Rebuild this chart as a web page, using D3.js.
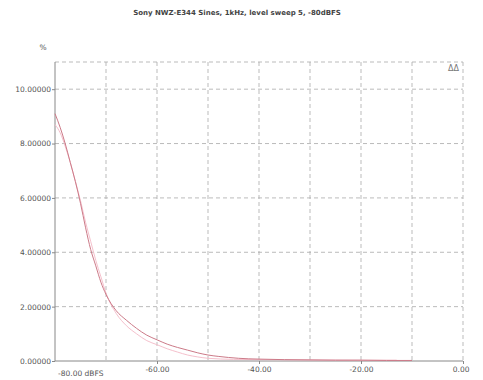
<!DOCTYPE html>
<html>
<head>
<meta charset="utf-8">
<script src="https://cdn.jsdelivr.net/npm/d3@7"></script>
<style>
  body { margin: 0; background: #fff; }
  text { font-family: "DejaVu Sans", sans-serif; }
</style>
</head>
<body>
<div id="chart"></div>
<script>
const title = 'Sony NWZ-E344 Sines, 1kHz, level sweep 5, -80dBFS';

// level in dBFS and THD+N in %
const levels = [-80, -79, -78, -77, -76, -75, -74, -73, -72, -71, -70, -68, -66, -64, -62, -60,
  -58, -56, -54, -52, -50, -48, -46, -44, -42, -40, -35, -30, -25, -20, -15, -10];
const thdMain = [9.1, 8.6, 8.0, 7.3, 6.6, 5.8, 4.9, 4.1, 3.5, 2.9, 2.45, 1.85, 1.5, 1.2, 0.95, 0.78,
  0.62, 0.5, 0.4, 0.3, 0.22, 0.17, 0.13, 0.1, 0.08, 0.07, 0.05, 0.04, 0.03, 0.03, 0.02, 0.02];

const levels2 = [-80, -79, -78, -77, -76, -75, -74, -73, -72, -71, -70, -68, -66, -64, -62, -60,
  -58, -56, -54, -52, -50, -45, -40, -30, -20, -13];
const thdRef = [8.7, 8.4, 7.9, 7.3, 6.6, 5.9, 5.1, 4.4, 3.7, 3.1, 2.5, 1.75, 1.3, 1.0, 0.75, 0.6,
  0.45, 0.33, 0.22, 0.15, 0.1, 0.06, 0.05, 0.04, 0.03, 0.03];

const yTicks = [0, 2, 4, 6, 8, 10];
const xGrid = [-70, -60, -50, -40, -30, -20, -10];
const xLabels = [-60, -40, -20, 0];

const width = 483;
const height = 380;
const margin = { top: 62, right: 20, bottom: 19, left: 55 };

const svg = d3.select('#chart')
  .append('svg')
  .attr('width', width)
  .attr('height', height);

const x = d3.scaleLinear()
  .domain([-80, 0])
  .range([margin.left, width - margin.right]);

const y = d3.scaleLinear()
  .domain([0, 11])
  .range([height - margin.bottom, margin.top]);

// title
svg.append('text')
  .attr('x', 237)
  .attr('y', 15)
  .attr('text-anchor', 'middle')
  .attr('font-size', 7)
  .attr('font-weight', 'bold')
  .attr('fill', '#444')
  .text(title);

// grid
const grid = svg.append('g')
  .attr('stroke', '#aaa')
  .attr('stroke-width', 0.8)
  .attr('stroke-dasharray', '4 3');

grid.selectAll('.vg')
  .data(xGrid.concat([0]))
  .join('line')
  .attr('x1', (d) => x(d))
  .attr('x2', (d) => x(d))
  .attr('y1', y(11))
  .attr('y2', y(0));

grid.selectAll('.hg')
  .data(yTicks.slice(1).concat([11]))
  .join('line')
  .attr('class', 'hg')
  .attr('x1', x(-80))
  .attr('x2', x(0))
  .attr('y1', (d) => y(d))
  .attr('y2', (d) => y(d));

// axes
const yAxis = svg.append('g')
  .attr('transform', `translate(${margin.left},0)`)
  .call(d3.axisLeft(y).tickValues(yTicks).tickSize(3).tickFormat((d) => d.toFixed(5)));
yAxis.select('.domain').attr('stroke', '#888').attr('d', `M0,${y(11)}V${y(0)}`);
yAxis.selectAll('.tick line').attr('stroke', '#888');
yAxis.selectAll('.tick text')
  .attr('font-size', 7.5)
  .attr('fill', '#555')
  .attr('x', -4)
  .attr('font-family', '"DejaVu Sans", sans-serif');

const xAxis = svg.append('g')
  .attr('transform', `translate(0,${y(0)})`)
  .call(d3.axisBottom(x).tickValues(xLabels).tickSize(3).tickFormat((d) => d.toFixed(2)));
xAxis.select('.domain').attr('stroke', '#888').attr('d', `M${x(-80)},0H${x(0)}`);
xAxis.selectAll('.tick line').attr('stroke', '#888');
xAxis.selectAll('.tick text')
  .attr('font-size', 7.5)
  .attr('fill', '#555')
  .attr('y', 6)
  .attr('font-family', '"DejaVu Sans", sans-serif');
xAxis.selectAll('.tick text').filter((d) => d === 0).attr('text-anchor', 'end').attr('dx', 6);

svg.append('text')
  .attr('x', x(-80) + 3)
  .attr('y', y(0) + 15)
  .attr('font-size', 7.5)
  .attr('fill', '#555')
  .text('-80.00 dBFS');

svg.append('text')
  .attr('x', 43)
  .attr('y', 50)
  .attr('text-anchor', 'middle')
  .attr('font-size', 7.5)
  .attr('fill', '#555')
  .text('%');

// little marker at top right
svg.append('text')
  .attr('x', x(0) - 4)
  .attr('y', y(11) + 9)
  .attr('text-anchor', 'end')
  .attr('font-size', 8)
  .attr('fill', '#777')
  .text('ΔΔ');

const line = d3.line()
  .x((d) => x(d[0]))
  .y((d) => y(d[1]))
  .curve(d3.curveMonotoneX);

svg.append('path')
  .datum(levels2.map((l, i) => [l, thdRef[i]]))
  .attr('fill', 'none')
  .attr('stroke', '#f5c0cc')
  .attr('stroke-width', 1)
  .attr('d', line);

svg.append('path')
  .datum(levels.map((l, i) => [l, thdMain[i]]))
  .attr('fill', 'none')
  .attr('stroke', '#cc7a88')
  .attr('stroke-width', 1)
  .attr('d', line);
</script>
</body>
</html>
